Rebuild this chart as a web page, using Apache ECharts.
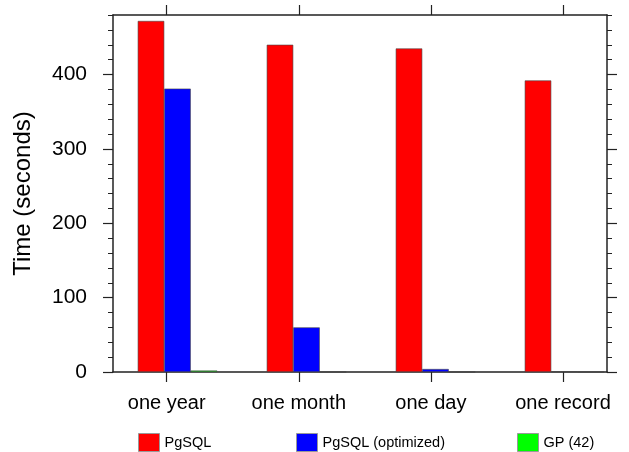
<!DOCTYPE html>
<html>
<head>
<meta charset="utf-8">
<script src="https://cdn.jsdelivr.net/npm/echarts@6/dist/echarts.min.js"></script>
<style>
  body { margin: 0; background: #fff; }
  #chart { width: 629px; height: 452px; }
</style>
</head>
<body>
<div id="chart"></div>
<script>
// 数据
var categories = ['one year', 'one month', 'one day', 'one record'];
var seriesNames = ['PgSQL', 'PgSQL (optimized)', 'GP (42)'];
var pgsql = [472, 440, 435, 392];
var pgsqlOptimized = [381, 60, 4, 0.4];
var gp = [2, 0, 0, 0];
var majorTicks = [0, 100, 200, 300, 400];
var minorTicks = [0, 20, 40, 60, 80, 100, 120, 140, 160, 180, 200, 220, 240, 260, 280, 300, 320, 340, 360, 380, 400, 420, 440, 460, 480];

var FONT = 'Liberation Sans, Arial, Helvetica, sans-serif';
var lineColor = '#222';
var noAxis = { show: false };

var myChart = echarts.init(document.getElementById('chart'));

function frameY(pos, idx, withLabel) {
  return {
    type: 'value', gridIndex: idx, position: pos, min: 0, max: 480,
    splitLine: noAxis,
    axisLine: { show: true, onZero: false, lineStyle: { color: lineColor, width: 1.5 } },
    axisTick: { show: true, inside: false, length: 10, customValues: majorTicks, lineStyle: { color: lineColor, width: 1.2 } },
    axisLabel: withLabel ? {
      show: true, customValues: majorTicks, margin: 26, color: '#000', fontSize: 21, fontFamily: FONT
    } : { show: false },
    name: withLabel ? 'Time (seconds)' : '',
    nameLocation: 'middle',
    nameGap: 78,
    nameTextStyle: { color: '#000', fontSize: 24, fontFamily: FONT }
  };
}

function minorY(pos, idx) {
  return {
    type: 'value', gridIndex: idx, position: pos, min: 0, max: 480,
    splitLine: noAxis,
    axisLine: { show: false, onZero: false },
    axisTick: { show: true, inside: false, length: 5, customValues: minorTicks, lineStyle: { color: lineColor, width: 1 } },
    axisLabel: { show: false }
  };
}

function frameX(pos) {
  return {
    type: 'value', gridIndex: 0, position: pos, min: 0, max: 1,
    splitLine: noAxis, axisTick: noAxis, axisLabel: noAxis,
    axisLine: { show: true, onZero: false, lineStyle: { color: lineColor, width: 1.5 } }
  };
}

function catX(pos, withLabel) {
  return {
    type: 'category', gridIndex: 3, position: pos, data: categories,
    boundaryGap: true,
    axisLine: { show: false },
    axisTick: { show: true, alignWithLabel: true, inside: false, length: 10, lineStyle: { color: lineColor, width: 1.2 } },
    axisLabel: withLabel ? { show: true, margin: 21, color: '#000', fontSize: 20, fontFamily: FONT } : { show: false }
  };
}

var colors = ['#ff0000', '#0000ff', '#00ff00'];
var values = [pgsql, pgsqlOptimized, gp];
var legendLeft = [138, 296, 517];

myChart.setOption({
  animation: false,
  backgroundColor: '#fff',
  grid: [
    { left: 113, top: 15, width: 494, height: 357 },
    { left: 113, top: 15, width: 494, height: 357 },
    { left: 113, top: 15, width: 516, height: 357 },
    { left: 100.65, top: 15, width: 530.7, height: 357 }
  ],
  legend: seriesNames.map(function (n, i) {
    return {
      data: [n], left: legendLeft[i], top: 433, icon: 'rect',
      itemWidth: 21, itemHeight: 18, padding: 0,
      itemStyle: { borderColor: '#999', borderWidth: 1 },
      textStyle: { color: '#000', fontSize: 14.5, fontFamily: FONT }
    };
  }),
  xAxis: [
    frameX('bottom'),
    frameX('top'),
    { type: 'value', gridIndex: 1, show: false },
    { type: 'category', gridIndex: 2, data: categories, show: false },
    catX('bottom', true),
    catX('top', false)
  ],
  yAxis: [
    frameY('left', 0, true),
    frameY('right', 0, false),
    minorY('left', 1),
    minorY('right', 1),
    { type: 'value', gridIndex: 2, min: 0, max: 480, show: false },
    { type: 'value', gridIndex: 3, min: 0, max: 480, show: false }
  ],
  series: seriesNames.map(function (n, i) {
    return {
      name: n, type: 'bar', xAxisIndex: 3, yAxisIndex: 4,
      data: values[i], barWidth: 26.5, barGap: '0%',
      itemStyle: { color: colors[i], borderColor: '#444', borderWidth: 0.6 }
    };
  })
});
</script>
</body>
</html>
